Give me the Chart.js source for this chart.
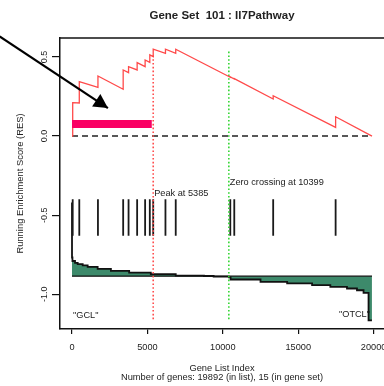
<!DOCTYPE html>
<html>
<head>
<meta charset="utf-8">
<script src="https://cdn.jsdelivr.net/npm/chart.js@4"></script>
<style>
  body { margin: 0; background: #fff; }
  canvas { display: block; }
</style>
</head>
<body>
<canvas id="gsea" width="384" height="386"></canvas>
<script>
const chartTitle = 'Gene Set  101 : Il7Pathway';
const xTitle = ['Gene List Index', 'Number of genes: 19892 (in list), 15 (in gene set)'];
const yTitle = 'Running Enrichment Score (RES)';

const nGenes = 19892;
const xRange = [-796, 20688];
const yRange = [-1.22, 0.62];
const xTicks = [0, 5000, 10000, 15000, 20000];
const yTicks = [-1.0, -0.5, 0.0, 0.5];

// where the 15 gene set members sit in the ranked list
const hitIndex = [46, 483, 1720, 3393, 3750, 4319, 4848, 5159, 5385, 6197, 6878, 10496, 10760, 13340, 17480];
// running enrichment score just before / just after each hit
const esBefore = [0, 0.209, 0.308, 0.296, 0.401, 0.418, 0.439, 0.466, 0.502, 0.523, 0.523, 0.372, 0.361, 0.234, 0.055];
const esAfter  = [0.211, 0.344, 0.380, 0.418, 0.439, 0.464, 0.481, 0.513, 0.549, 0.549, 0.549, 0.374, 0.363, 0.255, 0.122];

// barcode span
const hitTop = -0.40;
const hitBottom = -0.63;

// ranked list metric, drawn offset under the barcode (stepped)
const metricIndex = [0, 30, 200, 377, 708, 1038, 1700, 2579, 3790, 5225, 6878, 8750, 9392, 10399, 10516, 12500, 14266, 15919, 17130, 18234, 18896, 19332, 19663, 19887];
const metricValue = [-0.42, -0.768, -0.790, -0.802, -0.810, -0.818, -0.827, -0.840, -0.853, -0.863, -0.873, -0.882, -0.885, -0.889, -0.894, -0.907, -0.922, -0.932, -0.943, -0.954, -0.964, -0.975, -0.992, -1.165];
const metricZero = -0.886;

const peakIndex = 5385;
const zeroCross = 10399;
const peakLine = [0.51, -1.165];
const zeroLine = [0.534, -1.165];

// leading edge bar and the arrow pointing at it
const leadingEdge = [0, 5290];
const leadingY = 0.077;
const arrowFrom = [-4800, 0.63];
const arrowTo = [2381, 0.177];

const noteText = ['Peak at 5385', 'Zero crossing at 10399', '"GCL"', '"OTCL"'];
const noteX = [peakIndex, zeroCross, 0, nGenes];
const noteY = [-0.363, -0.296, -1.133, -1.13];
const noteAlign = ['left', 'left', 'left', 'right'];

const FONT = '"Liberation Sans", Arial, Helvetica, sans-serif';

// build point lists
const esPoints = [{x: 0, y: 0}];
hitIndex.forEach((h, i) => {
    esPoints.push({x: h, y: esBefore[i]});
    esPoints.push({x: h, y: esAfter[i]});
});
esPoints.push({x: nGenes, y: 0});

const hitPoints = [];
for (let h of hitIndex) {
    hitPoints.push({x: h, y: hitTop});
    hitPoints.push({x: h, y: hitBottom});
    hitPoints.push({x: h, y: null});
}

const metricPoints = metricIndex.map((m, i) => ({x: m, y: metricValue[i]}));

const frameAndNotes = {
    id: 'frameAndNotes',
    afterDraw(chart) {
        const {ctx, chartArea: a, scales: {x, y}} = chart;
        ctx.save();
        // top edge of the box (left/bottom come from the axes, right is off canvas)
        ctx.strokeStyle = '#111';
        ctx.lineWidth = 1.5;
        ctx.beginPath();
        ctx.moveTo(a.left, a.top);
        ctx.lineTo(a.right, a.top);
        ctx.stroke();

        ctx.fillStyle = '#222';
        ctx.font = '9.2px ' + FONT;
        ctx.textBaseline = 'middle';
        noteText.forEach((t, i) => {
            ctx.textAlign = noteAlign[i];
            const dx = noteAlign[i] == 'left' ? 1 : -2;
            ctx.fillText(t, x.getPixelForValue(noteX[i]) + dx, y.getPixelForValue(noteY[i]));
        });

        // arrow head
        const tx = x.getPixelForValue(arrowTo[0]);
        const ty = y.getPixelForValue(arrowTo[1]);
        const fx = x.getPixelForValue(arrowFrom[0]);
        const fy = y.getPixelForValue(arrowFrom[1]);
        ctx.translate(tx, ty);
        ctx.rotate(Math.atan2(ty - fy, tx - fx));
        ctx.fillStyle = '#000';
        ctx.beginPath();
        ctx.moveTo(0, 0);
        ctx.lineTo(-14, -7.5);
        ctx.lineTo(-14, 7.5);
        ctx.closePath();
        ctx.fill();
        ctx.restore();
    }
};

function flatLine(points, color, width, dash) {
    return {
        data: points,
        borderColor: color,
        borderWidth: width,
        borderDash: dash || [],
        borderCapStyle: 'butt',
        pointRadius: 0,
        fill: false,
        tension: 0
    };
}

new Chart(document.getElementById('gsea'), {
    type: 'line',
    data: {
        datasets: [
            Object.assign(flatLine([{x: arrowFrom[0], y: arrowFrom[1]}, {x: arrowTo[0], y: arrowTo[1]}], '#000', 2.2), {clip: false}),
            flatLine([{x: leadingEdge[0], y: leadingY}, {x: leadingEdge[1], y: leadingY}], '#fa0064', 8),
            flatLine(esPoints, '#ff4a4a', 1.3),
            flatLine([{x: peakIndex, y: peakLine[0]}, {x: peakIndex, y: peakLine[1]}], '#ff4d4d', 1.6, [1.6, 2.2]),
            flatLine([{x: zeroCross, y: zeroLine[0]}, {x: zeroCross, y: zeroLine[1]}], '#33d633', 1.6, [1.6, 2.2]),
            flatLine(hitPoints, '#1a1a1a', 1.8),
            flatLine([{x: 0, y: 0}, {x: nGenes, y: 0}], '#222', 1.5, [6, 4]),
            flatLine([{x: 0, y: metricZero}, {x: nGenes, y: metricZero}], '#111', 1.2),
            Object.assign(flatLine(metricPoints, '#111', 1.8), {
                stepped: 'after',
                fill: {value: metricZero},
                backgroundColor: '#3d8a6b'
            })
        ]
    },
    options: {
        responsive: false,
        animation: false,
        spanGaps: false,
        layout: {padding: 0},
        plugins: {
            legend: {display: false},
            tooltip: {enabled: false},
            title: {
                display: true,
                text: chartTitle,
                fullSize: false,
                color: '#222',
                font: {family: FONT, size: 11.5, weight: 'bold', lineHeight: 1.2},
                padding: {top: 9, bottom: 15.2}
            }
        },
        scales: {
            x: {
                type: 'linear',
                min: xRange[0],
                max: xRange[1],
                afterBuildTicks: s => { s.ticks = xTicks.map(v => ({value: v})); },
                afterFit: s => { s.height = 57; s.paddingLeft = 0; s.paddingRight = 0; },
                ticks: {
                    callback: v => String(v),
                    color: '#222',
                    font: {family: FONT, size: 9.2},
                    padding: 8,
                    maxRotation: 0,
                    autoSkip: false
                },
                grid: {display: true, drawOnChartArea: false, drawTicks: true, tickLength: 5, color: '#111', lineWidth: 1.2},
                border: {display: true, color: '#111', width: 1.5},
                title: {
                    display: true,
                    text: xTitle,
                    color: '#222',
                    font: {family: FONT, size: 9.3, lineHeight: 1.0},
                    padding: {top: 0, bottom: 3.5}
                }
            },
            y: {
                type: 'linear',
                min: yRange[0],
                max: yRange[1],
                afterBuildTicks: s => { s.ticks = yTicks.map(v => ({value: v})); },
                afterFit: s => { s.width = 60; s.paddingTop = 0; s.paddingBottom = 0; },
                ticks: {
                    callback: v => v.toFixed(1),
                    color: '#222',
                    font: {family: FONT, size: 9},
                    padding: 0,
                    minRotation: 90,
                    maxRotation: 90,
                    crossAlign: 'center',
                    autoSkip: false
                },
                grid: {display: true, drawOnChartArea: false, drawTicks: true, tickLength: 8, color: '#111', lineWidth: 1.2},
                border: {display: true, color: '#111', width: 1.5},
                title: {
                    display: true,
                    text: yTitle,
                    color: '#222',
                    font: {family: FONT, size: 9.4, lineHeight: 1.2},
                    padding: {top: 15, bottom: 0}
                }
            }
        }
    },
    plugins: [frameAndNotes]
});
</script>
</body>
</html>
